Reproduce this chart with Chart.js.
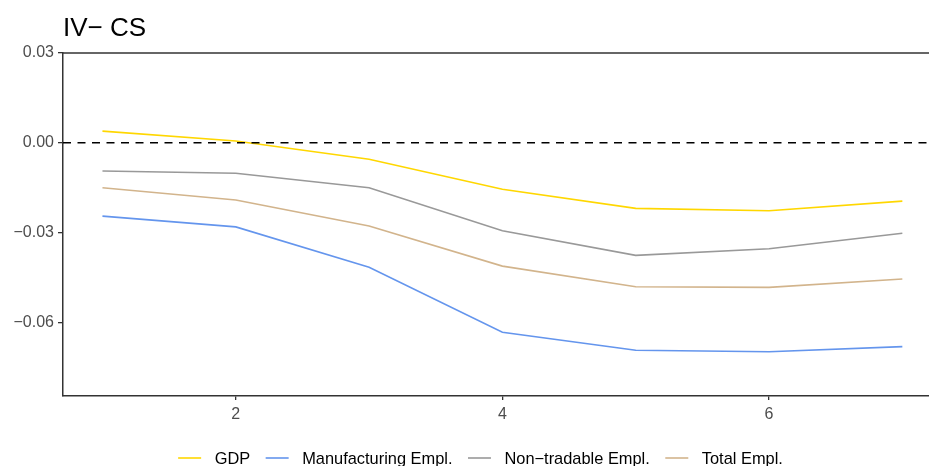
<!DOCTYPE html>
<html>
<head>
<meta charset="utf-8">
<script src="https://cdn.jsdelivr.net/npm/chart.js@4.4.1/dist/chart.umd.min.js"></script>
<style>
  html, body { margin: 0; padding: 0; background: #ffffff; }
  #wrap { width: 929px; height: 466px; }
</style>
</head>
<body>
<div id="wrap"><canvas id="c" width="929" height="466"></canvas></div>
<script>
// Impulse responses by horizon
const horizons = [1, 2, 3, 4, 5, 6, 7];
const gdp = [0.0039, 0.0006, -0.0055, -0.0155, -0.0219, -0.0227, -0.0195];
const manufacturingEmpl = [-0.0245, -0.0281, -0.0416, -0.0633, -0.0693, -0.0698, -0.0681];
const nonTradableEmpl = [-0.0094, -0.0102, -0.0150, -0.0294, -0.0376, -0.0354, -0.0302];
const totalEmpl = [-0.0150, -0.0191, -0.0278, -0.0412, -0.0481, -0.0483, -0.0455];

const seriesNames = ['GDP', 'Manufacturing Empl.', 'Non\u2212tradable Empl.', 'Total Empl.'];
const seriesColors = ['#FFD700', '#6495ED', '#999999', '#D2B48C'];

const xTicks = [2, 4, 6];
const yTicks = [-0.06, -0.03, 0, 0.03];
const titleText = 'IV\u2212 CS';

const FONT = '"Liberation Sans", Arial, Helvetica, sans-serif';

function toPoints(values) {
  return horizons.map((h, i) => ({ x: h, y: values[i] }));
}

const seriesValues = [gdp, manufacturingEmpl, nonTradableEmpl, totalEmpl];
const datasets = seriesValues.map((vals, i) => ({
  label: seriesNames[i],
  data: toPoints(vals),
  borderColor: seriesColors[i],
  backgroundColor: seriesColors[i],
  borderWidth: 1.6,
  pointRadius: 0,
  pointHoverRadius: 0,
  tension: 0,
  fill: false
}));

function fmtY(v) {
  if (Math.abs(v) < 1e-12) return '0.00';
  return (v < 0 ? '\u2212' : '') + Math.abs(v).toFixed(2);
}

// Panel decorations: title, top border, zero reference line, legend
const panelPlugin = {
  id: 'panelDecor',
  afterDatasetsDraw(chart) {
    const { ctx, chartArea, scales } = chart;
    ctx.save();
    // zero reference line
    const y0 = scales.y.getPixelForValue(0);
    ctx.strokeStyle = '#000000';
    ctx.lineWidth = 1.6;
    ctx.setLineDash([8, 6.5]);
    ctx.beginPath();
    ctx.moveTo(chartArea.left, y0);
    ctx.lineTo(chartArea.right, y0);
    ctx.stroke();
    ctx.restore();
  },
  afterDraw(chart) {
    const { ctx, chartArea } = chart;
    ctx.save();
    // top border of panel
    ctx.strokeStyle = '#333333';
    ctx.lineWidth = 1.5;
    ctx.beginPath();
    ctx.moveTo(chartArea.left - 0.75, chartArea.top);
    ctx.lineTo(chartArea.right, chartArea.top);
    ctx.stroke();

    // title
    ctx.fillStyle = '#000000';
    ctx.font = '26px ' + FONT;
    ctx.textAlign = 'left';
    ctx.textBaseline = 'alphabetic';
    ctx.fillText(titleText, chartArea.left, 36);

    // legend
    ctx.font = '16.4px ' + FONT;
    ctx.textBaseline = 'middle';
    const keyW = 23, keyGap = 13.5, itemGap = 15.5;
    const items = chart.data.datasets.map(ds => ({
      label: ds.label, color: ds.borderColor, w: ctx.measureText(ds.label).width
    }));
    const total = items.reduce((s, it) => s + keyW + keyGap + it.w, 0) + itemGap * (items.length - 1);
    const centerX = 480.5;
    let x = centerX - total / 2;
    const ly = 458;
    items.forEach(it => {
      ctx.strokeStyle = it.color;
      ctx.lineWidth = 1.6;
      ctx.setLineDash([]);
      ctx.beginPath();
      ctx.moveTo(x, ly);
      ctx.lineTo(x + keyW, ly);
      ctx.stroke();
      ctx.fillStyle = '#000000';
      ctx.fillText(it.label, x + keyW + keyGap, ly + 1);
      x += keyW + keyGap + it.w + itemGap;
    });
    ctx.restore();
  }
};

new Chart(document.getElementById('c'), {
  type: 'line',
  data: { datasets },
  options: {
    responsive: false,
    devicePixelRatio: 1,
    animation: false,
    layout: { padding: { top: 53, right: 0, bottom: 0, left: 0 } },
    plugins: {
      legend: { display: false },
      title: { display: false },
      tooltip: { enabled: false }
    },
    scales: {
      x: {
        type: 'linear',
        min: 0.704,
        max: 7.2,
        afterBuildTicks(scale) { scale.ticks = xTicks.map(v => ({ value: v })); },
        afterFit(scale) { scale.height = 70; },
        ticks: {
          color: '#4D4D4D',
          font: { family: FONT, size: 16 },
          padding: 5,
          maxRotation: 0,
          callback: v => String(v)
        },
        grid: {
          drawOnChartArea: false,
          drawTicks: true,
          tickLength: 4,
          color: '#333333',
          lineWidth: 1.3
        },
        border: { display: true, color: '#333333', width: 1.5 }
      },
      y: {
        type: 'linear',
        min: -0.0846,
        max: 0.03,
        afterBuildTicks(scale) { scale.ticks = yTicks.map(v => ({ value: v })); },
        afterFit(scale) { scale.width = 63; },
        ticks: {
          color: '#4D4D4D',
          font: { family: FONT, size: 16 },
          padding: 4,
          callback: v => fmtY(v)
        },
        grid: {
          drawOnChartArea: false,
          drawTicks: true,
          tickLength: 5,
          color: '#333333',
          lineWidth: 1.3
        },
        border: { display: true, color: '#333333', width: 1.5 }
      }
    }
  },
  plugins: [panelPlugin]
});
</script>
</body>
</html>
